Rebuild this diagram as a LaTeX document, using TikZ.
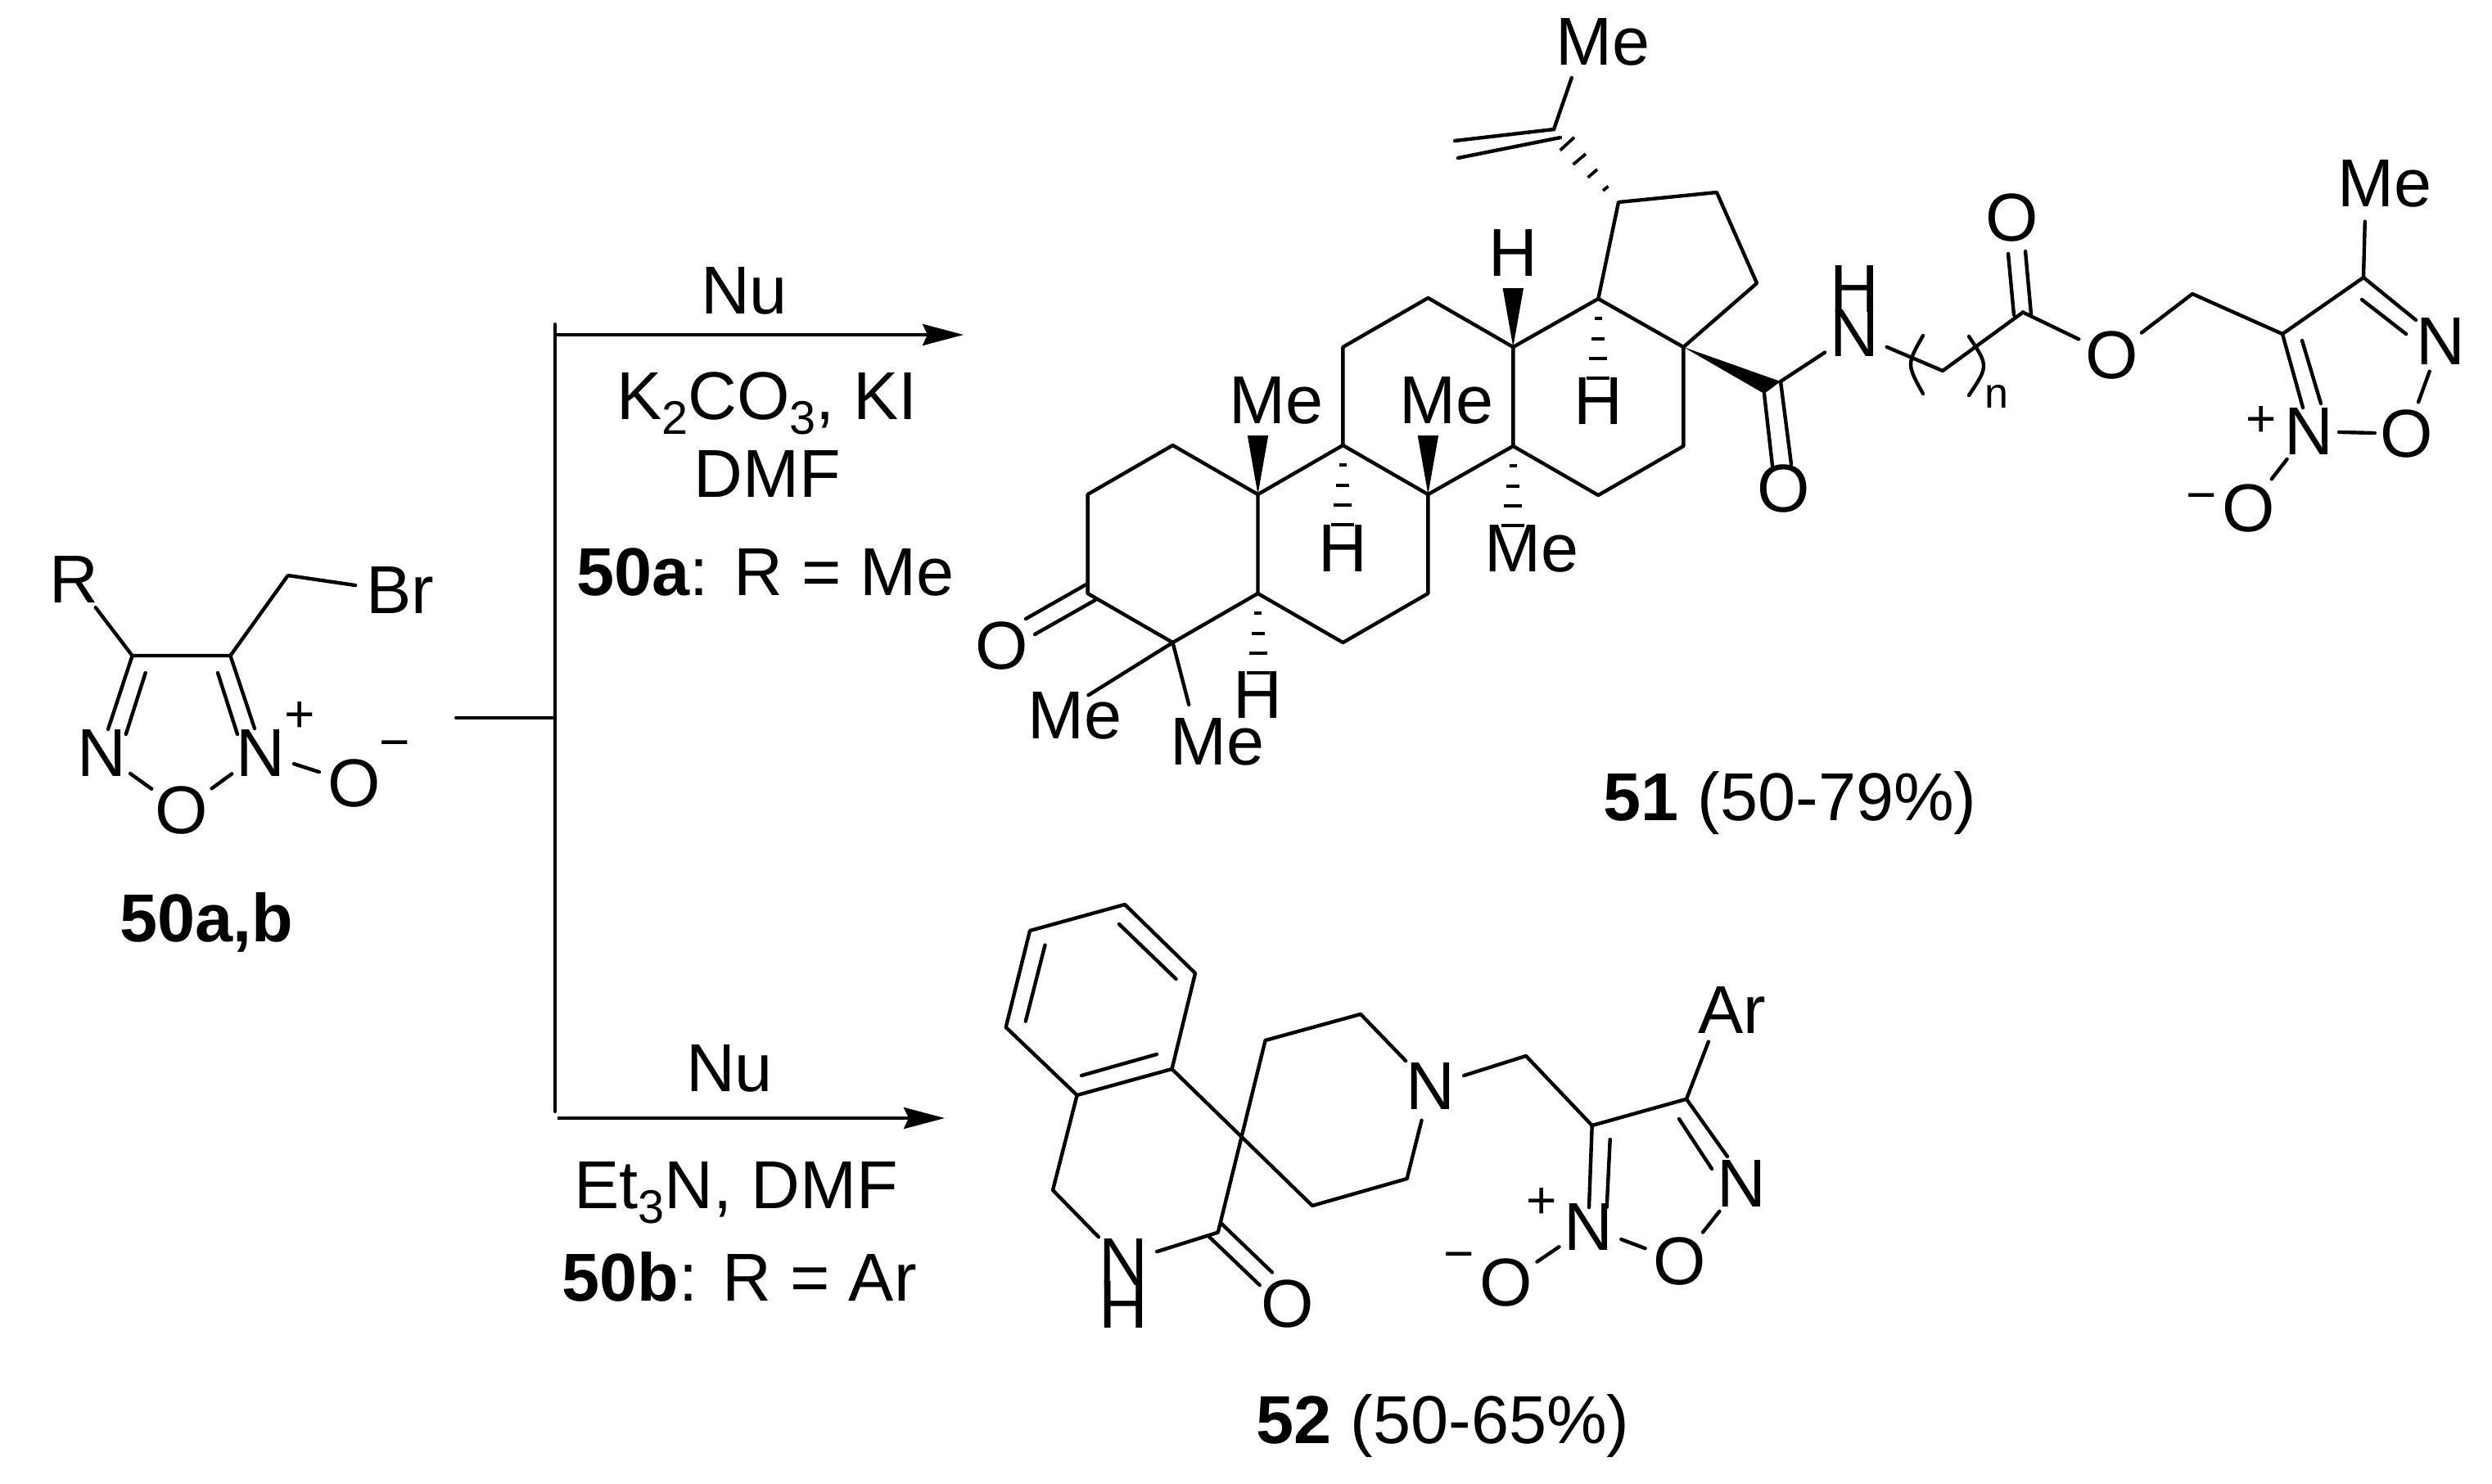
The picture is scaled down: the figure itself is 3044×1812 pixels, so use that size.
\documentclass[tikz,border=0pt]{standalone}
\usepackage{fontspec}
\setmainfont{Liberation Sans}
\usetikzlibrary{arrows.meta}
\newcommand{\sbs}[1]{\raisebox{-0.22em}{\fontsize{14.4}{14.4}\selectfont #1}}
\newcommand{\hashdown}[1]{\foreach \dy/\wd in {24/4.5,49/8,73/11,97/14}{\draw[hashbond] ([shift={(-\wd,\dy)}]#1) -- ([shift={(\wd,\dy)}]#1);}}
\newcommand{\wedgeup}[1]{\fill ([shift={(0,0)}]#1) -- ([shift={(-12.7,-72)}]#1) -- ([shift={(12.7,-72)}]#1) -- cycle;}
\tikzset{
  bond/.style={line width=1.1pt,line cap=round,line join=round},
  hashbond/.style={line width=0.95pt},
  rule/.style={line width=1pt,line cap=round},
  rxn/.style={line width=1pt,-{Stealth[length=12.5pt,width=6.5pt,inset=1.5pt]}},
  atom/.style={circle,inner sep=0.3pt,outer sep=0pt,font=\fontsize{20.7}{24}\selectfont},
  lab/.style={inner sep=0pt,outer sep=0pt,font=\fontsize{20.7}{24}\selectfont},
  chg/.style={inner sep=0pt,outer sep=0pt,font=\fontsize{16}{18}\selectfont},
}
\begin{document}
\begin{tikzpicture}[x=0.25pt,y=-0.25pt]
\useasboundingbox (0,0) rectangle (3044,1812);
% ---------- reagent 50
\coordinate (a4) at (161.6,801); \coordinate (a3) at (281.4,801); \coordinate (ach) at (351.7,703);
\node[atom] (aR) at (90.7,708) {R};
\node[atom] (aBr) at (475,721) {B\rlap{r}};
\node[atom] (aN2) at (124,920) {N};
\node[atom] (aN5) at (318,920) {N};
\node[atom] (aO1) at (222,990) {O};
\node[atom] (aOm) at (433,957) {O};
\node[chg] (aplus) at (366,876) {+};
\node[chg] (aminus) at (482,917) {−};
\coordinate (a1e) at (132,891); \coordinate (a1s) at (177.7,822); \coordinate (a1t) at (153.8,897);
\coordinate (a2e) at (311,890); \coordinate (a2s) at (266,822); \coordinate (a2t) at (290,897);
\draw[bond] (aR) -- (a4) -- (a3) -- (ach) -- (aBr);
\draw[bond] (a4) -- (a1e); \draw[bond] (a1s) -- (a1t);
\draw[bond] (a3) -- (a2e); \draw[bond] (a2s) -- (a2t);
\draw[bond] (aN2) -- (aO1); \draw[bond] (aN5) -- (aO1); \draw[bond] (aN5) -- (aOm);
\node[lab,anchor=base] (alabel) at (252,1150) {\textbf{50a,b}};
% ---------- reaction lines
\coordinate (vtop) at (678,396); \coordinate (vbot) at (678,1358); \coordinate (vmid) at (678,877);
\coordinate (hin) at (557,877); \coordinate (t1s) at (678,409); \coordinate (t1e) at (1177,409);
\coordinate (t2s) at (681,1366); \coordinate (t2e) at (1154,1366);
\draw[rule] (vtop) -- (vbot);
\draw[rule] (hin) -- (vmid);
\draw[rxn] (t1s) -- (t1e);
\draw[rxn] (t2s) -- (t2e);
\node[lab,anchor=base] (nu1) at (909,383) {Nu};
\node[lab,anchor=base] (rg1) at (937,512) {K\sbs{2}CO\sbs{3}, KI};
\node[lab,anchor=base] (rg2) at (937,607) {DMF};
\node[lab,anchor=base] (rg3) at (935,727) {\textbf{50a}: R = Me};
\node[lab,anchor=base] (nu2) at (891,1333) {Nu};
\node[lab,anchor=base] (rg4) at (899,1476) {Et\sbs{3}N, DMF};
\node[lab,anchor=base] (rg5) at (903,1589) {\textbf{50b}: R = Ar};
% ---------- product 51 skeleton
\coordinate (a) at (1328.6,725); \coordinate (b) at (1328.6,604); \coordinate (c) at (1432.5,544);
\coordinate (d) at (1536.5,604); \coordinate (e) at (1536.5,725); \coordinate (f) at (1432.5,785);
\coordinate (g) at (1640.4,544); \coordinate (h) at (1744.4,604); \coordinate (i) at (1744.4,725);
\coordinate (j) at (1640.4,785); \coordinate (k) at (1640.4,424); \coordinate (l) at (1744.4,364);
\coordinate (m) at (1848.3,424); \coordinate (n) at (1848.3,545); \coordinate (o) at (1952.3,365);
\coordinate (p) at (2056.3,424); \coordinate (q) at (2056.3,545); \coordinate (r) at (1952.3,605);
\coordinate (s) at (1977,247); \coordinate (t) at (2097,235); \coordinate (u) at (2146,346);
\draw[bond] (a) -- (b) -- (c) -- (d) -- (e) -- (f) -- cycle;
\draw[bond] (d) -- (g) -- (h) -- (i) -- (j) -- (e);
\draw[bond] (g) -- (k) -- (l) -- (m) -- (n) -- (h);
\draw[bond] (m) -- (o) -- (p) -- (q) -- (r) -- (n);
\draw[bond] (o) -- (s) -- (t) -- (u) -- (p);
% ketone
\node[atom] (oK) at (1224,789) {O};
\coordinate (k1) at (1328.6,713); \coordinate (k2) at (1253,756);
\coordinate (k3) at (1338,733); \coordinate (k4) at (1264,775);
\draw[bond] (k1) -- (k2); \draw[bond] (k3) -- (k4);
% gem-dimethyl
\node[atom] (me1) at (1290,874) {M\rlap{e}};
\node[atom] (me2) at (1464,906) {M\rlap{e}};
\draw[bond] (f) -- (me1); \draw[bond] (f) -- (me2);
% stereo labels
\node[lab] (h1) at (1536.5,849) {H};
\node[lab] (h2) at (1640,670) {H};
\node[lab] (h3) at (1848,309) {H};
\node[lab] (h4) at (1952,490) {H};
\node[atom] (me3) at (1536,489) {M\rlap{e}};
\node[atom] (me4) at (1744,489) {M\rlap{e}};
\node[atom] (me5) at (1848,670) {M\rlap{e}};
\wedgeup{d} \wedgeup{h} \wedgeup{m}
\hashdown{e} \hashdown{g} \hashdown{n} \hashdown{o}
% isopropenyl
\node[atom] (me6) at (1935,51) {M\rlap{e}};
\coordinate (v1) at (1898,158); \coordinate (v2) at (1777,172); \coordinate (v3) at (1906,168); \coordinate (v4) at (1781,193);
\draw[bond] (me6) -- (v1);
\draw[bond] (v1) -- (v2); \draw[bond] (v3) -- (v4);
\draw[hashbond] (1905.7,183.7) -- (1923,167.7);
\draw[hashbond] (1921.6,200.9) -- (1937,188);
\draw[hashbond] (1939.6,216.8) -- (1951,207);
\draw[hashbond] (1958,232.8) -- (1964.5,227.7);
% amide
\coordinate (cA) at (2175,466); \coordinate (cB) at (2155,481);
\fill (p) -- (cA) -- (cB) -- cycle;
\node[atom] (oA) at (2179,597) {O};
\coordinate (dA) at (2188,567); \coordinate (dB) at (2165,569);
\draw[bond] (cA) -- (dA); \draw[bond] (cB) -- (dB);
\node[atom] (nA) at (2265,407) {N};
\node[lab] (hA) at (2265,353) {H};
\draw[bond] (cA) -- (nA);
% chain
\coordinate (ch1) at (2373,453); \coordinate (cE) at (2471,381.5);
\draw[bond] (nA) -- (ch1) -- (cE);
\coordinate (pL1) at (2349,410); \coordinate (pLc) at (2329,445); \coordinate (pL2) at (2349,481);
\coordinate (pR1) at (2405,411); \coordinate (pRc) at (2429,447); \coordinate (pR2) at (2405,483);
\draw[bond] (pL1) .. controls (pLc) .. (pL2);
\draw[bond] (pR1) .. controls (pRc) .. (pR2);
\node[chg,font=\fontsize{13}{14}\selectfont] (nsub) at (2439,484) {n};
\node[atom] (oE1) at (2458,266) {O};
\coordinate (e1) at (2460,385); \coordinate (e2) at (2453,310); \coordinate (e3) at (2481,384); \coordinate (e4) at (2474,307);
\draw[bond] (e1) -- (e2); \draw[bond] (e3) -- (e4);
\node[atom] (oE2) at (2580,434) {O};
\coordinate (ch2) at (2678,359); \coordinate (bC4) at (2788,408); \coordinate (bC3) at (2887,339);
\draw[bond] (cE) -- (oE2) -- (ch2) -- (bC4) -- (bC3);
\node[atom] (me7) at (2890,224) {M\rlap{e}};
\draw[bond] (bC3) -- (me7);
\node[atom] (bN2) at (2981,417) {N};
\node[atom] (bO1) at (2940,530) {O};
\node[atom] (bN5) at (2820,527) {N};
\node[atom] (bOm) at (2747,621) {O};
\node[chg] (bplus) at (2762,515) {+};
\node[chg] (bminus) at (2689,615) {−};
\coordinate (b1) at (2951,391); \coordinate (b2) at (2885,366); \coordinate (b3) at (2939,408);
\coordinate (b4) at (2813,498); \coordinate (b5) at (2812,416); \coordinate (b6) at (2835,493);
\draw[bond] (bC3) -- (b1); \draw[bond] (b2) -- (b3);
\draw[bond] (bC4) -- (b4); \draw[bond] (b5) -- (b6);
\draw[bond,shorten <=-1pt,shorten >=-1pt] (bN2) -- (bO1);
\draw[bond,shorten <=-1.5pt,shorten >=-1.5pt] (bN5) -- (bO1);
\draw[bond] (bN5) -- (bOm);
\node[lab,anchor=base] (lab51) at (2186.7,1002) {\textbf{51} (50-79\%)};
% ---------- product 52
\coordinate (A) at (1374,1105); \coordinate (B) at (1460,1189); \coordinate (C) at (1431.5,1306);
\coordinate (D) at (1315.6,1338); \coordinate (E) at (1228.7,1255); \coordinate (F) at (1258,1137);
\draw[bond] (A) -- (B) -- (C) -- (D) -- (E) -- (F) -- cycle;
\coordinate (i1) at (1367,1129); \coordinate (i2) at (1436.5,1196);
\coordinate (i3) at (1276.5,1154.6); \coordinate (i4) at (1252.8,1247.6);
\coordinate (i5) at (1413,1288); \coordinate (i6) at (1321,1314);
\draw[bond] (i1) -- (i2); \draw[bond] (i3) -- (i4); \draw[bond] (i5) -- (i6);
\coordinate (G) at (1286,1454); \coordinate (Cq) at (1487.8,1505.6);
\coordinate (Ps) at (1603,1473); \coordinate (Pt) at (1718.6,1440);
\coordinate (Pu) at (1545.6,1271); \coordinate (Pv) at (1662,1239);
\node[atom] (nH) at (1372,1542) {N};
\node[lab] (hH) at (1372,1594) {H};
\node[atom] (oL) at (1573,1593) {O};
\node[atom] (nP) at (1747,1327) {N};
\draw[bond] (D) -- (G) -- (nH) -- (Cq) -- (Pu) -- (Pv) -- (nP) -- (Pt) -- (Ps) -- (C);
\coordinate (l1) at (1491.6,1494.5); \coordinate (l2) at (1554,1554.5); \coordinate (l3) at (1476,1510); \coordinate (l4) at (1538.7,1570);
\draw[bond] (l1) -- (l2); \draw[bond] (l3) -- (l4);
\coordinate (m1) at (1864,1290); \coordinate (fC4) at (1944.7,1375); \coordinate (fC3) at (2060,1342.7);
\draw[bond] (nP) -- (m1) -- (fC4) -- (fC3);
\node[atom] (ar) at (2101.7,1234) {A\rlap{r}};
\draw[bond] (fC3) -- (ar);
\node[atom] (fN2) at (2127,1446) {N};
\node[atom] (fO1) at (2052,1541) {O};
\node[atom] (fN5) at (1940,1499) {N};
\node[atom] (fOm) at (1840,1567) {O};
\node[chg] (fplus) at (1883,1470) {+};
\node[chg] (fminus) at (1782,1542) {−};
\coordinate (f1) at (2110,1413); \coordinate (f2) at (2051,1367); \coordinate (f3) at (2091,1428);
\coordinate (f4) at (1941,1475); \coordinate (f5) at (1966.7,1392); \coordinate (f6) at (1962.7,1475);
\draw[bond] (fC3) -- (f1); \draw[bond] (f2) -- (f3);
\draw[bond] (fC4) -- (f4); \draw[bond] (f5) -- (f6);
\draw[bond] (fN2) -- (fO1); \draw[bond] (fN5) -- (fO1); \draw[bond] (fN5) -- (fOm);
\node[lab,anchor=base] (lab52) at (1762.5,1763.7) {\textbf{52} (50-65\%)};
\end{tikzpicture}
\end{document}
